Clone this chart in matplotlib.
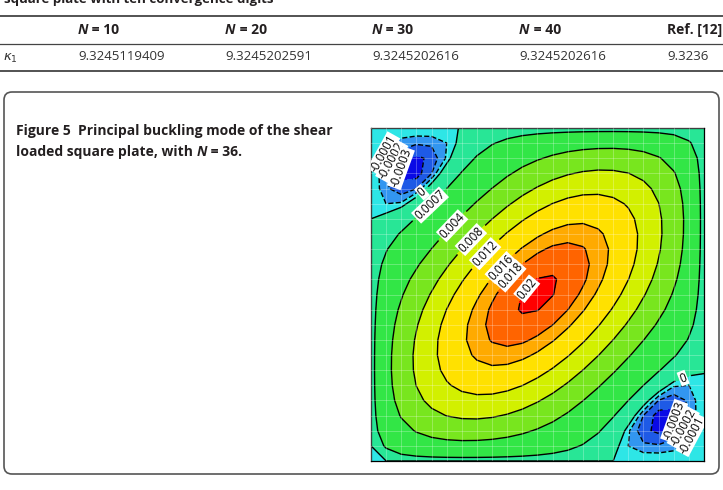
import numpy as np
import matplotlib.pyplot as plt
from matplotlib.patches import FancyBboxPatch

# mode shape w(x, y) = sum a_mn sin(m pi x) sin(n pi y), unit square
mode_m = [1, 2, 1, 3, 3, 2, 4, 1, 5, 3, 5, 4, 5, 3, 7, 2, 6]
mode_n = [1, 2, 3, 1, 3, 4, 2, 5, 1, 5, 3, 4, 5, 7, 3, 6, 2]
mode_amp = [0.0175506, 0.0051383, -0.0012122, -0.0012122, 0.0006742,
            0.0000793, 0.0000793, -0.0000782, -0.0000782, 0.0000753,
            0.0000753, 0.0000502, 0.0000171, 0.0000168, 0.0000168,
            0.0000163, 0.0000163]

levels = [-0.0003, -0.0002, -0.0001, 0, 0.0007, 0.004, 0.008, 0.012, 0.016, 0.018, 0.02]
level_text = ['-0.0003', '-0.0002', '-0.0001', '0', '0.0007', '0.004', '0.008',
              '0.012', '0.016', '0.018', '0.02']
band_colors = ['#0a0ae6', '#1e5ae6', '#3296f0', '#2ee6e6', '#28e696', '#32e646',
               '#78e61e', '#d2f000', '#ffe100', '#ffaa00', '#ff6400', '#ff0000']

headers = ['10', '20', '30', '40']
kappa_vals = ['9.3245119409', '9.3245202591', '9.3245202616', '9.3245202616']
ref_val = '9.3236'

plt.rcParams['font.family'] = ['Open Sans', 'DejaVu Sans']
fig = plt.figure(figsize=(7.23, 4.90), dpi=100)

# page layer in pixel units
bg = fig.add_axes([0, 0, 1, 1])
bg.set_xlim(0, 723)
bg.set_ylim(490, 0)
bg.axis('off')

tc = '#231f20'
bg.text(4, 3, 'square plate with ten convergence digits', fontsize=9.5,
        fontweight='bold', color=tc, va='baseline')
for yy, lw in [(16, 1.3), (44, 0.9), (71, 1.3)]:
    bg.plot([0, 723], [yy, yy], color='#444444', lw=lw)

col_x = [78, 225, 372, 519]
for x, h, v in zip(col_x, headers, kappa_vals):
    t = bg.text(x, 30, 'N', fontsize=10, fontweight='bold', fontstyle='italic',
                color=tc, va='center')
    bg.annotate(' = ' + h, xy=(1, 0), xycoords=t, va='bottom', fontsize=10,
                fontweight='bold', color=tc)
    bg.text(x, 57, v, fontsize=9.5, color='#333333', va='center')
bg.text(667, 30, 'Ref. [12]', fontsize=10, fontweight='bold', color=tc, va='center')
bg.text(667, 57, ref_val, fontsize=9.5, color='#333333', va='center')
bg.text(3, 58, r'$\kappa_1$', fontsize=9.5, color='#333333', va='center')

box = FancyBboxPatch((4, 92), 715, 382, boxstyle='round,pad=0,rounding_size=8',
                     fc='white', ec='#555555', lw=1.2)
bg.add_patch(box)
bg.text(16, 131, 'Figure 5  Principal buckling mode of the shear', fontsize=10,
        fontweight='bold', color=tc, va='center')
t1 = bg.text(16, 152, 'loaded square plate, with ', fontsize=10,
             fontweight='bold', color=tc, va='center')
t2 = bg.annotate('N', xy=(1, 0), xycoords=t1, va='bottom', fontsize=10,
                 fontweight='bold', fontstyle='italic', color=tc)
bg.annotate(' = 36.', xy=(1, 0), xycoords=t2, va='bottom', fontsize=10,
            fontweight='bold', color=tc)

# contour plot
ax = fig.add_axes([371 / 723, 1 - 461 / 490, 333 / 723, 333 / 490])
xg = np.linspace(0, 1, 23)
X, Y = np.meshgrid(xg, xg)
W = np.zeros_like(X)
for m, n, a in zip(mode_m, mode_n, mode_amp):
    W += a * np.sin(m * np.pi * X) * np.sin(n * np.pi * Y)

ax.contourf(X, Y, W, levels=[-1] + levels + [1], colors=band_colors)
cs = ax.contour(X, Y, W, levels=levels, colors='k', linewidths=1.0)
label_pos = [(0.035, 0.925), (0.065, 0.90), (0.09, 0.88), (0.155, 0.805),
             (0.185, 0.76), (0.24, 0.71), (0.30, 0.665), (0.34, 0.625),
             (0.385, 0.585), (0.42, 0.555), (0.465, 0.52),
             (0.935, 0.255), (0.91, 0.12), (0.935, 0.10), (0.96, 0.08)]
labs = ax.clabel(cs, fmt=dict(zip(levels, level_text)), manual=label_pos,
                 inline=True, fontsize=8.5)
for lab in labs:
    lab.set_bbox(dict(facecolor='white', edgecolor='none', pad=0.6))

ax.set_xticks(xg)
ax.set_yticks(xg)
ax.grid(color='white', alpha=0.3, lw=0.6)
ax.set_axisbelow(False)
ax.tick_params(length=0, labelbottom=False, labelleft=False)
for sp in ax.spines.values():
    sp.set_linewidth(0.9)
ax.set_xlim(0, 1)
ax.set_ylim(0, 1)

fig.savefig('out.png', dpi=100)
